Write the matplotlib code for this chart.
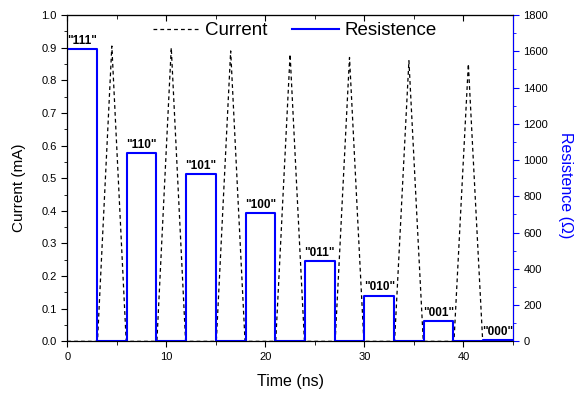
import numpy as np
import matplotlib.pyplot as plt

plt.rcParams['font.family'] = ['Liberation Sans', 'DejaVu Sans']

# Resistance pulses (ns, ohm)
states = ['"111"', '"110"', '"101"', '"100"', '"011"', '"010"', '"001"', '"000"']
pulse_start = [0, 6, 12, 18, 24, 30, 36, 42]
pulse_width = 3
resist = [1612, 1040, 922, 708, 445, 252, 112, 5]

# Current triangles between pulses
peak_time = [4.5, 10.5, 16.5, 22.5, 28.5, 34.5, 40.5]
peak_current = [0.905, 0.90, 0.89, 0.88, 0.87, 0.86, 0.85]

# build step / triangle traces
t_r, r_v = [], []
for s, r in zip(pulse_start, resist):
    t_r += [s, s, s + pulse_width, s + pulse_width]
    r_v += [0, r, r, 0]

t_c, c_v = [0], [0]
for pt, pc in zip(peak_time, peak_current):
    t_c += [pt - 1.45, pt, pt + 1.45]
    c_v += [0, pc, 0]
t_c += [45]
c_v += [0]

fig, ax = plt.subplots(figsize=(5.75, 3.96), dpi=100)
ax2 = ax.twinx()

l1, = ax.plot(t_c, c_v, 'k--', lw=0.9, dashes=(3, 2.5), label='Current')
l2, = ax2.plot(t_r, r_v, color='#0000ff', lw=1.5, label='Resistence')

for s, r, lab in zip(pulse_start, resist, states):
    ax2.text(s + pulse_width / 2, r + 12, lab, ha='center', va='bottom',
             fontsize=8.5, fontweight='bold')

ax.set_xlim(0, 45)
ax.set_ylim(0, 1.0)
ax2.set_ylim(0, 1800)
ax.set_xticks([0, 10, 20, 30, 40])
ax.set_xticks([5, 15, 25, 35, 45], minor=True)
ax.set_yticks(np.arange(0, 1.01, 0.1))
ax.set_yticks(np.arange(0.05, 1.0, 0.1), minor=True)
ax2.set_yticks(np.arange(0, 1801, 200))
ax2.set_yticks(np.arange(100, 1800, 200), minor=True)

ax.tick_params(axis='both', which='both', direction='out', labelsize=8)
ax.tick_params(axis='x', which='major', length=4)
ax.tick_params(axis='x', which='minor', length=3)
ax.tick_params(axis='y', which='major', length=4)
ax.tick_params(axis='y', which='minor', length=2.5)
ax2.tick_params(axis='y', which='both', direction='out', colors='#0000ff',
                labelcolor='black', labelsize=8)
ax2.tick_params(axis='y', which='major', length=4)
ax2.tick_params(axis='y', which='minor', length=2.5)
ax.yaxis.set_major_formatter(plt.FormatStrFormatter('%.1f'))
ax2.spines['right'].set_color('#0000ff')

# inward ticks on the top spine
top = ax.secondary_xaxis('top')
top.set_xticks([0, 10, 20, 30, 40])
top.set_xticks([5, 15, 25, 35, 45], minor=True)
top.tick_params(which='both', direction='in', labeltop=False)
top.tick_params(which='major', length=4)
top.tick_params(which='minor', length=3)

ax.set_xlabel('Time (ns)', fontsize=11.5, labelpad=9)
ax.set_ylabel('Current (mA)', fontsize=11)
ax.yaxis.set_label_coords(-0.092, 0.47)
ax2.set_ylabel('Resistence (\u03a9)', fontsize=11.5, color='#0000ff',
               rotation=270, ha='center', va='center')
ax2.yaxis.set_label_coords(1.117, 0.48)

ax.legend([l1, l2], ['Current', 'Resistence'], loc='upper center',
          ncol=2, frameon=False, fontsize=13.5, handlelength=2.5,
          bbox_to_anchor=(0.51, 1.03), columnspacing=1.3, handletextpad=0.3)

plt.subplots_adjust(left=0.117, right=0.892, top=0.962, bottom=0.138)
plt.savefig('out.png', dpi=100)
